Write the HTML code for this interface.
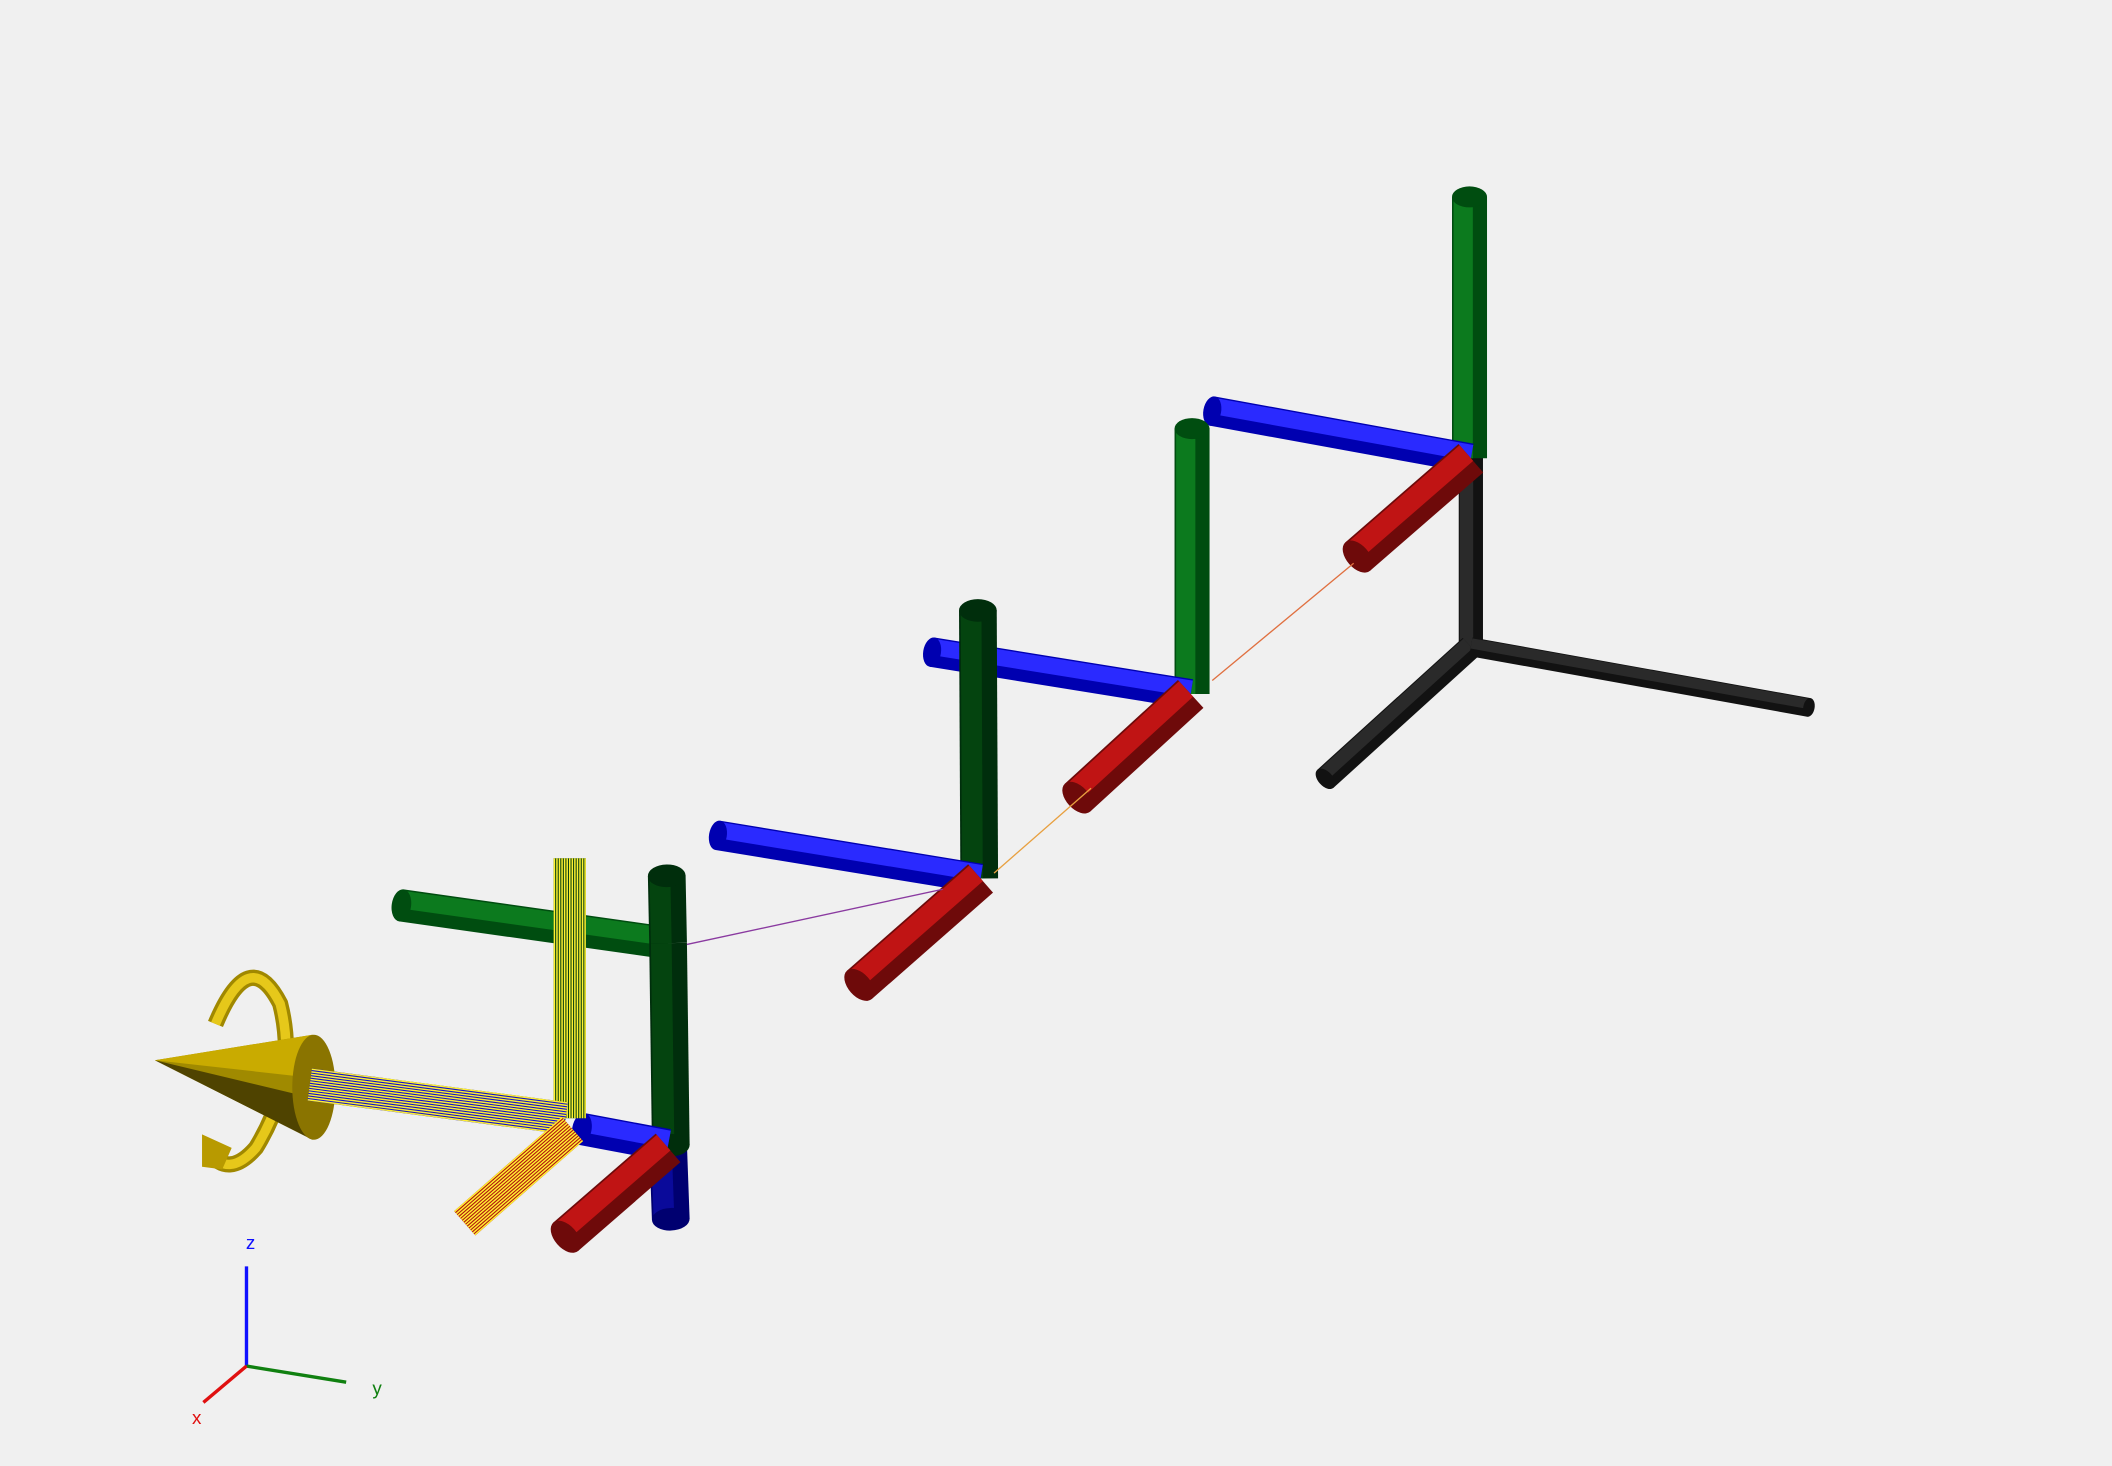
<!DOCTYPE html>
<html><head><meta charset="utf-8"><style>
html,body{margin:0;padding:0;background:#f0f0f0;}
svg{display:block;}
text{font-family:"Liberation Sans","DejaVu Sans",sans-serif;}
</style></head><body>
<svg id="scene" width="2112" height="1466" viewBox="0 0 1568 1088" xmlns="http://www.w3.org/2000/svg">
<rect width="1568" height="1088" fill="#f0f0f0"/>
<g id="links"></g>
<g id="gripper">
  <path d="M160,760 Q185,700 208,745 Q222,800 190,852 Q170,875 155,855" fill="none" stroke="#a08800" stroke-width="12"/>
  <path d="M160,760 Q185,700 208,745 Q222,800 190,852 Q170,875 155,855" fill="none" stroke="#e6c81a" stroke-width="7"/>
  <polygon points="150,842 172,852 165,868 150,866" fill="#b89a00"/>
  <polygon points="115,787 232,768 232,846" fill="#a08a00"/>
  <polygon points="115,787 232,768 232,800" fill="#c9ab00"/>
  <polygon points="115,787 232,815 232,846" fill="#4f4300"/>
  <ellipse cx="233" cy="807" rx="16" ry="39" fill="#8a7400"/>
</g>
<g id="overlay"></g>
<g id="triad">
  <line x1="183" y1="1014" x2="183" y2="940" stroke="#1010ff" stroke-width="2.5"/>
  <line x1="183" y1="1014" x2="257" y2="1026" stroke="#108010" stroke-width="2.5"/>
  <line x1="183" y1="1014" x2="151" y2="1041" stroke="#e01010" stroke-width="2.5"/>
  <text x="186" y="927" fill="#1010ff" font-size="14" text-anchor="middle">z</text>
  <text x="280" y="1035" fill="#108010" font-size="14" text-anchor="middle">y</text>
  <text x="146" y="1057" fill="#e01010" font-size="14" text-anchor="middle">x</text>
</g>
<script>
// cylinders: start x, start y, end x, end y (screen projection), colour key
const cylStart = [[1092,480],[1092,480],[1092,480],[1091,340],[1092,340],[1092,340],
  [885,515],[884,515],[884,515],[727,652],[728,652],[728,652],
  [496,700],[496,700],[496,850],[496,700],[496,850],[496,852]];
const cylEnd = [[1092,340],[984,578],[1343,525],[1091,146],[900,305],[1008,413],
  [885,318],[692,484],[800,592],[726,453],[533,620],[638,731],
  [298,672],[495,650],[498,905],[498,850],[432,838],[420,918]];
const cylColor = ["black","black","black","green","blue","red",
  "green","blue","red","dkgreen","blue","red",
  "green","dkgreen","navy","dkgreen","blue","red"];
const cylWidth = [18,18,14,26,22,28, 26,22,28, 28,22,28, 24,28,28,28,24,28];
const pal = {black:["#121212","#2a2a2a"],green:["#004d10","#0c7a1e"],dkgreen:["#002e0c","#04440f"],
  blue:["#0000b0","#2a2aff"],navy:["#000070","#0a0a9a"],red:["#6e0a0a","#c01414"]};
const g = document.getElementById('links');
const NS = 'http://www.w3.org/2000/svg';
for (let i = 0; i < cylStart.length; i++) {
  const [x1,y1] = cylStart[i], [x2,y2] = cylEnd[i];
  const c = pal[cylColor[i]], w = cylWidth[i];
  const grp = document.createElementNS(NS,'g');
  
  
  const dx = x2-x1, dy = y2-y1, L = Math.hypot(dx,dy);
  let nx = -dy/L, ny = dx/L;
  if (nx + ny > 0) { nx = -nx; ny = -ny; }
  const l1 = document.createElementNS(NS,'line');
  l1.setAttribute('x1',x1); l1.setAttribute('y1',y1); l1.setAttribute('x2',x2); l1.setAttribute('y2',y2);
  l1.setAttribute('stroke',c[0]); l1.setAttribute('stroke-width',w);
  grp.appendChild(l1);
  const o = w*0.18;
  const l2 = document.createElementNS(NS,'line');
  l2.setAttribute('x1',x1+nx*o); l2.setAttribute('y1',y1+ny*o); l2.setAttribute('x2',x2+nx*o); l2.setAttribute('y2',y2+ny*o);
  l2.setAttribute('stroke',c[1]); l2.setAttribute('stroke-width',w*0.55);
  grp.appendChild(l2);
  const cap = document.createElementNS(NS,'ellipse');
  const ang = Math.atan2(dy,dx)*180/Math.PI;
  cap.setAttribute('cx',x2); cap.setAttribute('cy',y2);
  cap.setAttribute('rx',w*0.3); cap.setAttribute('ry',w/2);
  cap.setAttribute('transform','rotate('+ang+' '+x2+' '+y2+')');
  cap.setAttribute('fill',c[0]);
  grp.appendChild(cap);
  g.appendChild(grp);
}
// thin trace lines between joints
const traceStart = [[510,701],[738,648],[900,505]];
const traceEnd = [[700,660],[810,585],[1005,418]];
const traceColor = ["#8a3aa0","#e8a040","#e07040"];
const ov = document.getElementById('overlay');
for (let i = 0; i < traceStart.length; i++) {
  const l = document.createElementNS(NS,'line');
  
  
  l.setAttribute('x1',traceStart[i][0]); l.setAttribute('y1',traceStart[i][1]);
  l.setAttribute('x2',traceEnd[i][0]); l.setAttribute('y2',traceEnd[i][1]);
  l.setAttribute('stroke',traceColor[i]); l.setAttribute('stroke-width',1);
  ov.appendChild(l);
}
// wireframe tool frame cylinders
const wireStart = [[423,830],[230,805],[425,838]];
const wireEnd = [[423,637],[420,830],[345,908]];
const wireColor = ["#0a4010","#1010d0","#b01010"];
for (let i = 0; i < wireStart.length; i++) {
  const [x1,y1] = wireStart[i], [x2,y2] = wireEnd[i];
  const grp = document.createElementNS(NS,'g');
  
  
  const base = document.createElementNS(NS,'line');
  base.setAttribute('x1',x1); base.setAttribute('y1',y1); base.setAttribute('x2',x2); base.setAttribute('y2',y2);
  base.setAttribute('stroke',wireColor[i]); base.setAttribute('stroke-width',24);
  grp.appendChild(base);
  const dx = x2-x1, dy = y2-y1, L = Math.hypot(dx,dy), nx = -dy/L, ny = dx/L;
  for (let k = -6; k <= 6; k++) {
    const o = k*1.9;
    const s = document.createElementNS(NS,'line');
    s.setAttribute('x1',x1+nx*o); s.setAttribute('y1',y1+ny*o); s.setAttribute('x2',x2+nx*o); s.setAttribute('y2',y2+ny*o);
    s.setAttribute('stroke','#fff030'); s.setAttribute('stroke-width',1.1);
    grp.appendChild(s);
  }
  ov.appendChild(grp);
}
</script>
</svg>
</body></html>
